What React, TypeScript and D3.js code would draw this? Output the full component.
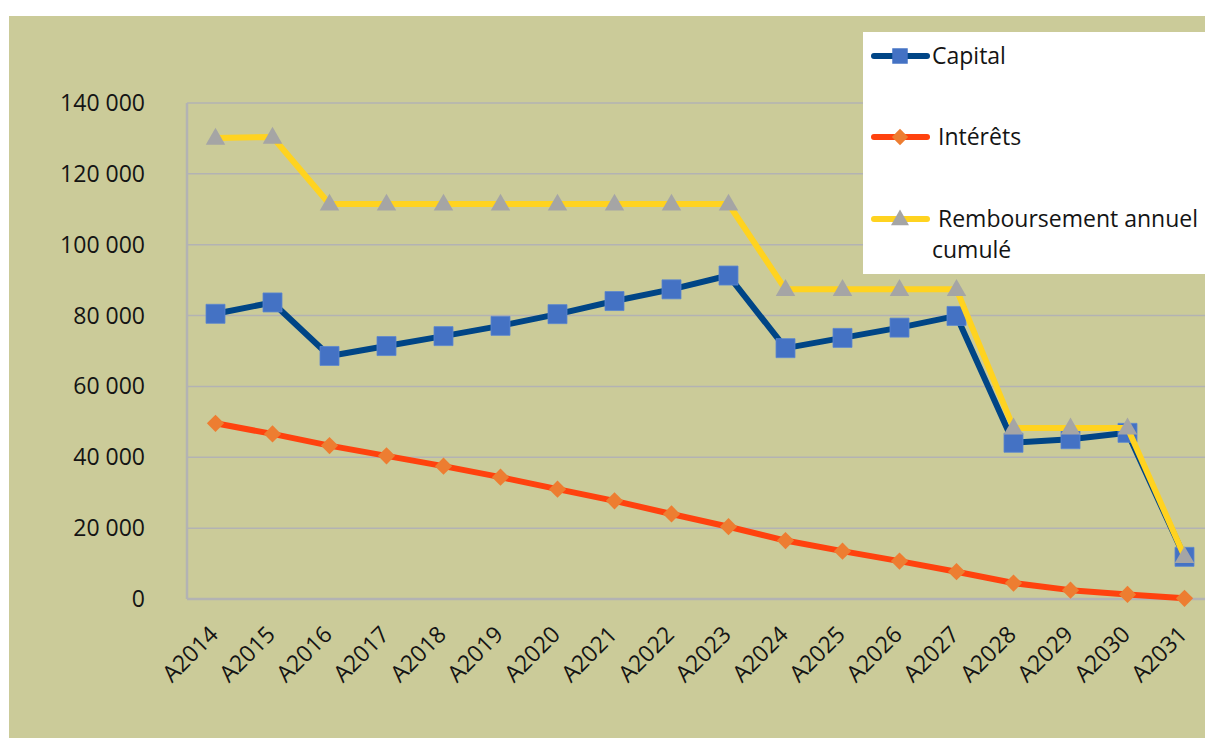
import * as d3 from 'd3'
import { useEffect, useRef } from 'react'

const years = [
  'A2014', 'A2015', 'A2016', 'A2017', 'A2018', 'A2019', 'A2020', 'A2021', 'A2022',
  'A2023', 'A2024', 'A2025', 'A2026', 'A2027', 'A2028', 'A2029', 'A2030', 'A2031',
]
const capital = [
  80500, 83700, 68600, 71400, 74200, 77100, 80400, 84100, 87400,
  91300, 70800, 73700, 76600, 79900, 44100, 45100, 46900, 11900,
]
const interets = [
  49600, 46600, 43300, 40400, 37500, 34400, 31000, 27700, 24000,
  20400, 16500, 13500, 10700, 7700, 4500, 2500, 1300, 200,
]
const remboursement = [
  130100, 130400, 111500, 111500, 111500, 111500, 111500, 111500, 111500,
  111500, 87400, 87400, 87400, 87400, 48300, 48300, 48300, 12000,
]
const yTicks = [0, 20000, 40000, 60000, 80000, 100000, 120000, 140000]

type Marker = 'square' | 'diamond' | 'triangle'
const series: { name: string[]; values: number[]; line: string; fill: string; marker: Marker }[] = [
  { name: ['Capital'], values: capital, line: '#004586', fill: '#4472C4', marker: 'square' },
  { name: [' Intérêts'], values: interets, line: '#FF420E', fill: '#ED7D31', marker: 'diamond' },
  { name: [' Remboursement annuel', 'cumulé'], values: remboursement, line: '#FFD320', fill: '#A5A5A5', marker: 'triangle' },
]

const FONT = '"Open Sans", sans-serif'

export default function App() {
  const svgRef = useRef<SVGSVGElement>(null)

  useEffect(() => {
    if (!svgRef.current) return
    const svg = d3.select(svgRef.current)
    svg.selectAll('*').remove()

    const W = 1205
    const H = 738
    const plot = { left: 187, top: 103, bottom: 599 }
    const band = 57

    svg.append('rect').attr('width', W).attr('height', H).attr('fill', '#fff')
    svg.append('rect').attr('x', 9).attr('y', 16).attr('width', W - 9).attr('height', H - 16).attr('fill', '#CBCB99')

    const x = d3
      .scalePoint<string>()
      .domain(years)
      .range([plot.left + band / 2, plot.left + band / 2 + band * (years.length - 1)])
    const y = d3.scaleLinear().domain([0, 140000]).range([plot.bottom, plot.top])
    const plotRight = plot.left + band * years.length

    const fmt = d3.formatLocale({ decimal: ',', thousands: ' ', grouping: [3], currency: ['', '€'] }).format(',d')

    // grille
    svg.append('g')
      .selectAll('line')
      .data(yTicks)
      .join('line')
      .attr('x1', plot.left)
      .attr('x2', plotRight)
      .attr('y1', (d) => y(d))
      .attr('y2', (d) => y(d))
      .attr('stroke', '#B3B3B3')
      .attr('stroke-width', (d) => (d === 0 ? 2.5 : 1.5))
    svg.append('line')
      .attr('x1', plot.left)
      .attr('x2', plot.left)
      .attr('y1', plot.top)
      .attr('y2', plot.bottom)
      .attr('stroke', '#B3B3B3')
      .attr('stroke-width', 2.5)

    svg.append('g')
      .selectAll('text')
      .data(yTicks)
      .join('text')
      .attr('x', 145)
      .attr('y', (d) => y(d))
      .attr('dy', '0.35em')
      .attr('text-anchor', 'end')
      .attr('font-family', FONT)
      .attr('font-size', 23)
      .attr('fill', '#141414')
      .text((d) => fmt(d))

    svg.append('g')
      .selectAll('text')
      .data(years)
      .join('text')
      .attr('transform', (d) => `translate(${(x(d) ?? 0) + 4},636) rotate(-45)`)
      .attr('text-anchor', 'end')
      .attr('font-family', FONT)
      .attr('font-size', 23)
      .attr('fill', '#141414')
      .text((d) => d)

    const symbolFor = (m: Marker) =>
      m === 'square'
        ? d3.symbol(d3.symbolSquare, 361)
        : m === 'diamond'
          ? d3.symbol(d3.symbolDiamond2, 190)
          : d3.symbol(d3.symbolTriangle, 165)

    const line = d3
      .line<number>()
      .x((_, i) => x(years[i]) ?? 0)
      .y((d) => y(d))

    series.forEach((s) => {
      const g = svg.append('g')
      g.append('path')
        .datum(s.values)
        .attr('fill', 'none')
        .attr('stroke', s.line)
        .attr('stroke-width', 6)
        .attr('stroke-linejoin', 'round')
        .attr('d', line)
      g.selectAll('path.m')
        .data(s.values)
        .join('path')
        .attr('class', 'm')
        .attr('transform', (d, i) => `translate(${x(years[i])},${y(d) + (s.marker === 'triangle' ? 1 : 0)})`)
        .attr('d', symbolFor(s.marker)())
        .attr('fill', s.fill)
        .attr('stroke', s.marker === 'square' ? '#5b86d0' : 'none')
        .attr('stroke-width', 0.8)
    })

    // légende
    const lg = svg.append('g')
    lg.append('rect').attr('x', 863).attr('y', 32).attr('width', W - 863).attr('height', 242).attr('fill', '#fff')
    const legendY = [56, 137, 219]
    series.forEach((s, i) => {
      const ly = legendY[i]
      lg.append('line')
        .attr('x1', 874)
        .attr('x2', 927)
        .attr('y1', ly)
        .attr('y2', ly)
        .attr('stroke', s.line)
        .attr('stroke-width', 6)
        .attr('stroke-linecap', 'round')
      const sym =
        s.marker === 'square'
          ? d3.symbol(d3.symbolSquare, 240)
          : s.marker === 'diamond'
            ? d3.symbol(d3.symbolDiamond2, 170)
            : d3.symbol(d3.symbolTriangle, 140)
      lg.append('path')
        .attr('transform', `translate(900,${ly + (s.marker === 'triangle' ? 1 : 0)})`)
        .attr('d', sym())
        .attr('fill', s.fill)
      s.name.forEach((t, j) => {
        lg.append('text')
          .attr('x', 932)
          .attr('y', ly + j * 31)
          .attr('dy', '0.35em')
          .attr('font-family', FONT)
          .attr('font-size', 23)
          .attr('fill', '#141414')
          .attr('xml:space', 'preserve')
          .style('white-space', 'pre')
          .text(t)
      })
    })
  }, [])

  return (
    <div style={{ position: 'fixed', left: 0, top: 0 }}>
      <svg ref={svgRef} width={1205} height={738} style={{ display: 'block' }} />
    </div>
  )
}
